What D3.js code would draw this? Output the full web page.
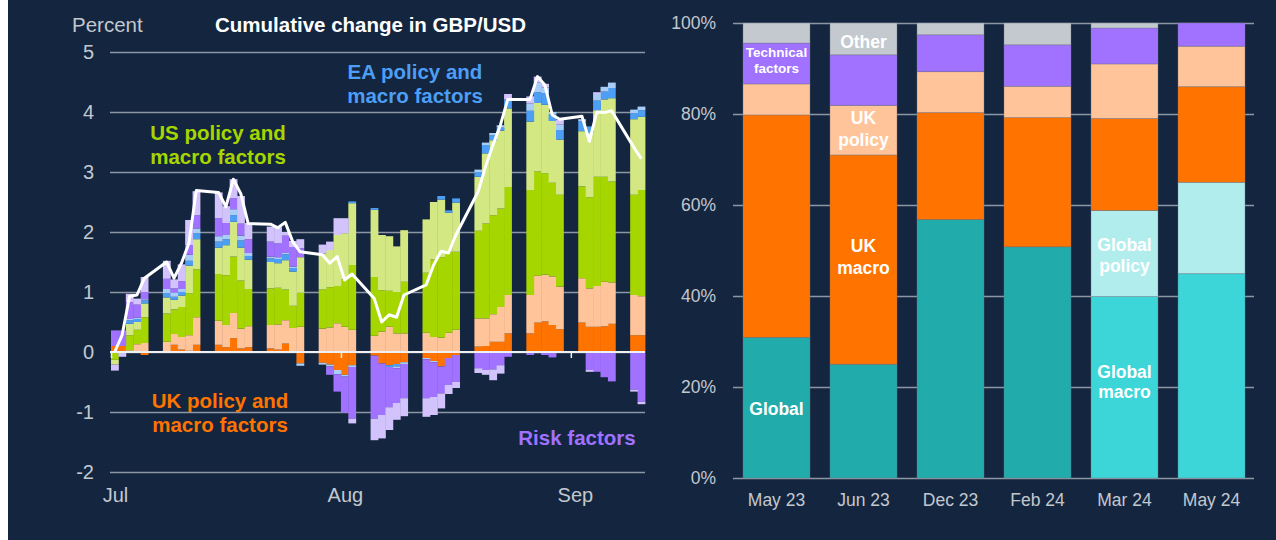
<!DOCTYPE html>
<html>
<head>
<meta charset="utf-8">
<script src="https://cdn.jsdelivr.net/npm/d3@7"></script>
<style>
  body { margin: 0; background: #ffffff; }
  svg { display: block; font-family: "Liberation Sans", Arial, sans-serif; }
</style>
</head>
<body>
<svg id="chart" width="1276" height="540"></svg>
<script>
// ---- left panel: daily decomposition of GBP/USD (percent) ----
var days = [
  "2024-07-01","2024-07-02","2024-07-03","2024-07-04","2024-07-05",
  "2024-07-08","2024-07-09","2024-07-10","2024-07-11","2024-07-12",
  "2024-07-15","2024-07-16","2024-07-17","2024-07-18","2024-07-19",
  "2024-07-22","2024-07-23","2024-07-24","2024-07-25","2024-07-26",
  "2024-07-29","2024-07-30","2024-07-31","2024-08-01","2024-08-02",
  "2024-08-05","2024-08-06","2024-08-07","2024-08-08","2024-08-09",
  "2024-08-12","2024-08-13","2024-08-14","2024-08-15","2024-08-16",
  "2024-08-19","2024-08-20","2024-08-21","2024-08-22","2024-08-23",
  "2024-08-26","2024-08-27","2024-08-28","2024-08-29","2024-08-30",
  "2024-09-02","2024-09-03","2024-09-04","2024-09-05","2024-09-06",
  "2024-09-09","2024-09-10"
];
var ukMacro = [0.10,0.10,0,0,-0.05, 0,0.12,0.04,0.02,0.12, 0.12,0.08,0.23,0.06,0.08,
  0.06,0.04,0.14,0,-0.19, -0.18,-0.21,-0.30,-0.38,-0.22, -0.06,-0.19,-0.22,-0.20,-0.17,
  -0.10,-0.15,-0.24,-0.10,-0.05, 0.09,0.10,0.17,0.17,0.31, 0.31,0.49,0.51,0.45,0.38,
  0.49,0.42,0.42,0.43,0.47, 0.28,0.28];
var ukPolicy = [0,0,0.03,0.13,0.15, 0.17,0.18,0.21,0.26,0.46, 0.40,0.37,0.42,0.33,0.35,
  0.39,0.42,0.39,0.40,0.42, 0.39,0.41,0.48,0.42,0.37, 0.27,0.34,0.42,0.31,0.31,
  0.32,0.25,0.24,0.32,0.37, 0.47,0.46,0.46,0.58,0.64, 0.64,0.78,0.78,0.81,0.71,
  0.74,0.64,0.68,0.74,0.69, 0.67,0.65];
var usMacro = [-0.13,0,0.25,0.24,0.43, 0.47,0.41,0.50,0.70,0.80, 0.78,0.83,0.94,0.80,0.62,
  0.61,0.61,0.51,0.37,0.57, 0.65,0.67,0.62,0.79,1.08, 0.98,0.69,0.60,0.69,0.86,
  1.00,1.29,1.34,1.35,1.30, 1.46,1.58,1.65,1.64,1.80, 1.75,1.74,1.69,1.56,1.53,
  1.53,1.52,1.82,1.75,1.68, 1.67,1.77];
var usPolicy = [-0.08,0,0.19,0.13,0.23, 0.27,0.16,0.19,0.46,0.50, 0.44,0.50,0.58,0.55,0.49,
  0.44,0.41,0.49,0.57,0.59, 0.60,0.62,0.85,0.77,1.03, 1.12,0.92,0.91,0.76,0.86,
  0.89,0.96,0.96,0.65,0.82, 0.90,1.17,1.25,1.30,1.31, 1.14,1.14,1.14,1.03,0.92,
  0.92,1.07,1.11,1.29,1.39, 1.26,1.22];
var eaMacro = [0,0,0.06,0.05,0.05, 0.07,0.05,0.06,0.08,0.10, 0.10,0.10,0.11,0.12,0.06,
  0.06,0.07,0.10,0.06,0, 0,0,0,0,0.03, 0.03,0,-0.03,-0.04,0,
  0,0,0.06,0.04,0.07, 0.08,0.14,0.08,0.05,0.15, 0.18,0.18,0.19,0.11,0.16,
  0.17,0.11,0.16,0.13,0.17, 0.10,0.11];
var eaPolicy = [0,0,0.02,0.02,0.02, 0.07,0.07,0.05,0.10,0.08, 0.09,0.07,0.10,0.08,0.05,
  0.03,0.03,0.02,0.02,-0.04, -0.03,-0.03,-0.07,-0.03,-0.03, 0,0,0,-0.03,-0.03,
  -0.02,-0.02,0,0,0, 0.04,0.04,0.04,0.04,0, 0.12,0.16,0.10,0.04,0.09,
  0.03,0,0.11,0.08,0.09, 0.06,0.06];
var riskMain = [0.26,0.26,0.28,0.22,0.12, 0.17,0.07,0.13,0.16,0.22, 0.30,0.20,0.18,0.20,0.23,
  0.25,0.23,0.29,0.33,0.15, 0,-0.14,-0.29,-0.60,-0.86, -1.05,-0.86,-0.67,-0.58,-0.57,
  -0.65,-0.58,-0.45,-0.45,-0.45, -0.27,-0.30,-0.29,-0.22,-0.08, -0.05,-0.02,-0.05,-0.09,0,
  0,-0.30,-0.33,-0.42,-0.49, -0.63,-0.83];
var riskOther = [-0.10,-0.08,0.14,0.10,0.25, 0.30,0.15,0.28,0.42,0.40, 0.43,0.28,0.32,0.46,0.27,
  0.25,0.27,0.06,0.10,0.15, 0.15,0.14,0.28,0.25,-0.08, -0.36,-0.39,-0.38,-0.28,-0.30,
  -0.31,-0.30,-0.25,-0.15,-0.10, -0.08,-0.08,-0.18,-0.14,0.09, 0.12,0.10,0.06,0,0.08,
  0,-0.03,0.03,0,0, -0.03,-0.04];
var cumChange = [0.00,0.28,0.93,0.95,1.23, 1.50,1.23,1.48,1.81,2.69, 2.66,2.42,2.88,2.64,2.14,
  2.13,2.07,2.16,1.84,1.67, 1.62,1.48,1.59,1.20,1.30, 0.89,0.50,0.62,0.58,0.95,
  1.12,1.45,1.68,1.65,1.95, 2.67,3.09,3.45,3.78,4.21, 4.21,4.59,4.45,3.95,3.88,
  3.93,3.51,4.00,3.99,4.02, 3.41,3.22];
var leftTicks = [-2, -1, 0, 1, 2, 3, 4, 5];
var monthTicks = ["2024-07-01", "2024-08-01", "2024-09-01"];

// ---- right panel: share of explained variance (%) ----
var periods = ["May 23", "Jun 23", "Dec 23", "Feb 24", "Mar 24", "May 24"];
var globalShare = [30.9, 25.0, 56.8, 50.8, 0, 0];
var globalMacroShare = [0, 0, 0, 0, 39.9, 44.9];
var globalPolicyShare = [0, 0, 0, 0, 18.9, 20.1];
var ukMacroShare = [48.9, 46.0, 23.5, 28.4, 20.2, 21.0];
var ukPolicyShare = [6.8, 10.9, 9.0, 6.9, 12.0, 8.9];
var technicalShare = [9.0, 11.1, 8.1, 9.1, 7.9, 5.1];
var otherShare = [4.4, 7.0, 2.6, 4.8, 1.1, 0];
var rightTicks = [0, 20, 40, 60, 80, 100];

var bg = "#14263f";
var gridCol = "#8d96a4";
var tickCol = "#c3c8cf";

var svg = d3.select("#chart");
svg.append("rect").attr("x", 8).attr("y", 0).attr("width", 1268).attr("height", 540).attr("fill", bg);

// ================= left panel =================
var parseDay = d3.timeParse("%Y-%m-%d");
var keys = ["ukMacro", "ukPolicy", "usMacro", "usPolicy", "eaMacro", "eaPolicy", "riskMain", "riskOther"];
var colours = {
  ukMacro: "#ff7300", ukPolicy: "#ffc499", usMacro: "#a6d600", usPolicy: "#d3e882",
  eaMacro: "#4d9ef5", eaPolicy: "#a8cdf6", riskMain: "#a072ff", riskOther: "#d3c3fc"
};
var series = { ukMacro: ukMacro, ukPolicy: ukPolicy, usMacro: usMacro, usPolicy: usPolicy,
  eaMacro: eaMacro, eaPolicy: eaPolicy, riskMain: riskMain, riskOther: riskOther };

var rows = days.map(function (d, i) {
  var r = { date: parseDay(d), line: cumChange[i] };
  keys.forEach(function (k) { r[k] = series[k][i]; });
  return r;
});

var x = d3.scaleTime()
  .domain([parseDay("2024-07-01"), parseDay("2024-09-11")])
  .range([111, 645]);
var y = d3.scaleLinear().domain([-2, 5]).range([472, 52]);

// gridlines
var yAxisL = svg.append("g")
  .attr("transform", "translate(110,0)")
  .call(d3.axisLeft(y).tickValues(leftTicks).tickSize(-535).tickFormat(function (d) { return String(d); }));
yAxisL.select(".domain").remove();
yAxisL.selectAll("line").attr("stroke", gridCol).attr("stroke-width", 1.5);
yAxisL.selectAll("text").attr("fill", tickCol).attr("font-size", 20).attr("x", -16);

var stacked = d3.stack().keys(keys).offset(d3.stackOffsetDiverging)(rows);

svg.append("g").selectAll("g")
  .data(stacked)
  .enter().append("g")
  .attr("fill", function (s) { return colours[s.key]; })
  .selectAll("rect")
  .data(function (s) { return s; })
  .enter().append("rect")
  .attr("x", function (d) { return x(d.data.date); })
  .attr("width", function (d) { return x(d3.timeDay.offset(d.data.date, 1)) - x(d.data.date) + 0.4; })
  .attr("y", function (d) { return y(Math.max(d[0], d[1])); })
  .attr("height", function (d) { return Math.abs(y(d[0]) - y(d[1])); });

// zero line + month ticks
var xAxisL = svg.append("g")
  .attr("transform", "translate(0," + y(0) + ")")
  .call(d3.axisBottom(x).tickValues(monthTicks.map(parseDay)).tickSize(6).tickFormat(d3.timeFormat("%b")));
xAxisL.select(".domain").attr("d", "M110,0H645").attr("stroke", "#eef0f3").attr("stroke-width", 2);
xAxisL.selectAll("line").attr("stroke", "#eef0f3").attr("stroke-width", 1.5);
xAxisL.selectAll("text").attr("fill", tickCol).attr("font-size", 20)
  .attr("y", 136).attr("dx", 4);

// cumulative change line
var line = d3.line()
  .x(function (d) { return x(d.date) + 3.7; })
  .y(function (d) { return y(d.line); });
svg.append("path").datum(rows)
  .attr("d", line)
  .attr("fill", "none")
  .attr("stroke", "#ffffff")
  .attr("stroke-width", 3)
  .attr("stroke-linejoin", "round");

svg.append("text").attr("x", 72).attr("y", 32).attr("fill", tickCol).attr("font-size", 20.5).text("Percent");
svg.append("text").attr("x", 215).attr("y", 32).attr("fill", "#ffffff").attr("font-size", 20.5)
  .attr("font-weight", "bold").text("Cumulative change in GBP/USD");

var leftNotes = [
  { lines: ["EA policy and", "macro factors"], x: 415, y: 72, col: "#4d9ef5" },
  { lines: ["US policy and", "macro factors"], x: 218, y: 133, col: "#a6d600" },
  { lines: ["UK policy and", "macro factors"], x: 220, y: 401, col: "#ff7300" },
  { lines: ["Risk factors"], x: 577, y: 438, col: "#a072ff" }
];
leftNotes.forEach(function (n) {
  n.lines.forEach(function (t, i) {
    svg.append("text").attr("x", n.x).attr("y", n.y + i * 24 + 7)
      .attr("text-anchor", "middle").attr("fill", n.col)
      .attr("font-size", 20.5).attr("font-weight", "bold").text(t);
  });
});

// ================= right panel =================
var rKeys = ["global", "globalMacro", "globalPolicy", "ukMacro", "ukPolicy", "technical", "other"];
var rColours = {
  global: "#22abab", globalMacro: "#3cd6d8", globalPolicy: "#b2edee",
  ukMacro: "#ff7300", ukPolicy: "#ffc499", technical: "#a072ff", other: "#c4c8cf"
};
var rSeries = { global: globalShare, globalMacro: globalMacroShare, globalPolicy: globalPolicyShare,
  ukMacro: ukMacroShare, ukPolicy: ukPolicyShare, technical: technicalShare, other: otherShare };
var rRows = periods.map(function (p, i) {
  var r = { period: p };
  rKeys.forEach(function (k) { r[k] = rSeries[k][i]; });
  return r;
});

var xb = d3.scaleBand().domain(periods).range([733, 1255]).paddingInner(0.23).paddingOuter(0.115);
var yr = d3.scaleLinear().domain([0, 100]).range([478, 23]);

var yAxisR = svg.append("g")
  .attr("transform", "translate(733,0)")
  .call(d3.axisLeft(yr).tickValues(rightTicks).tickSize(-521).tickFormat(function (d) { return d + "%"; }));
yAxisR.select(".domain").remove();
yAxisR.selectAll("line").attr("stroke", gridCol).attr("stroke-width", 1.5);
yAxisR.selectAll("text").attr("fill", tickCol).attr("font-size", 17.5).attr("x", -17);

svg.append("g").selectAll("g")
  .data(d3.stack().keys(rKeys)(rRows))
  .enter().append("g")
  .attr("fill", function (s) { return rColours[s.key]; })
  .selectAll("rect")
  .data(function (s) { return s; })
  .enter().append("rect")
  .attr("x", function (d) { return xb(d.data.period); })
  .attr("width", xb.bandwidth())
  .attr("y", function (d) { return yr(d[1]); })
  .attr("height", function (d) { return yr(d[0]) - yr(d[1]); })
  .attr("stroke", "rgba(110,120,135,0.45)")
  .attr("stroke-width", 0.8);

var xAxisR = svg.append("g")
  .attr("transform", "translate(0,478)")
  .call(d3.axisBottom(xb).tickSize(0));
xAxisR.select(".domain").remove();
xAxisR.selectAll("text").attr("fill", tickCol).attr("font-size", 17.5).attr("dy", 0).attr("y", 28);

var rightNotes = [
  { lines: ["Technical", "factors"], p: "May 23", y: 52, gap: 16, size: 13.5 },
  { lines: ["Other"], p: "Jun 23", y: 42, gap: 0, size: 17.5 },
  { lines: ["UK", "policy"], p: "Jun 23", y: 118, gap: 22, size: 17.5 },
  { lines: ["UK", "macro"], p: "Jun 23", y: 246, gap: 22, size: 17.5 },
  { lines: ["Global"], p: "May 23", y: 409, gap: 0, size: 17.5 },
  { lines: ["Global", "policy"], p: "Mar 24", y: 245, gap: 21, size: 17.5 },
  { lines: ["Global", "macro"], p: "Mar 24", y: 372, gap: 20, size: 17.5 }
];
rightNotes.forEach(function (n) {
  n.lines.forEach(function (t, i) {
    svg.append("text").attr("x", xb(n.p) + xb.bandwidth() / 2).attr("y", n.y + i * n.gap + n.size * 0.36)
      .attr("text-anchor", "middle").attr("fill", "#ffffff")
      .attr("font-size", n.size).attr("font-weight", "bold").text(t);
  });
});
</script>
</body>
</html>
